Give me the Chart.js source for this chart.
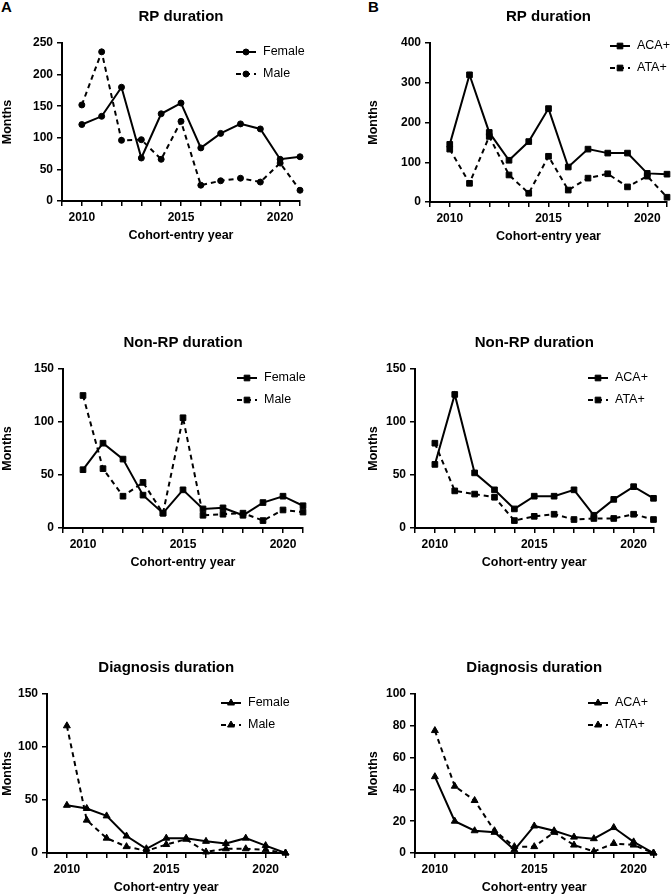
<!DOCTYPE html>
<html>
<head>
<meta charset="utf-8">
<script src="https://cdn.jsdelivr.net/npm/chart.js@4.4.0/dist/chart.umd.min.js"></script>
<style>
  body { margin: 0; background: #fff; width: 672px; height: 896px; position: relative; overflow: hidden;
         font-family: "Liberation Sans", Arial, sans-serif; }
  canvas { position: absolute; }
  .tag { position: absolute; font-weight: bold; font-size: 15px; line-height: 1; color: #000; }
</style>
</head>
<body>
<div class="tag" style="left:1px;top:-1px">A</div>
<div class="tag" style="left:368px;top:-1px">B</div>
<canvas id="a1"></canvas>
<canvas id="b1"></canvas>
<canvas id="a2"></canvas>
<canvas id="b2"></canvas>
<canvas id="a3"></canvas>
<canvas id="b3"></canvas>
<script>
// cohort-entry years
const years = [2010, 2011, 2012, 2013, 2014, 2015, 2016, 2017, 2018, 2019, 2020, 2021];

// RP duration (months)
const rpFemale = [121, 134, 180, 68, 138, 155, 84, 107, 122, 114, 66, 70];
const rpMale   = [152, 236, 96, 97, 66, 126, 25, 32, 36, 30, 60, 17];
const rpAca    = [145, 320, 175, 105, 152, 235, 88, 133, 123, 123, 72, 70];
const rpAta    = [133, 47, 165, 68, 22, 115, 30, 60, 71, 38, 65, 12];

// Non-RP duration (months)
const nonRpFemale = [55, 80, 65, 31, 14, 36, 18, 19, 12, 24, 30, 21];
const nonRpMale   = [125, 56, 30, 43, 14, 104, 12, 13, 14, 7, 17, 15];
const nonRpAca    = [60, 126, 52, 36, 18, 30, 30, 36, 12, 27, 39, 28];
const nonRpAta    = [80, 35, 32, 29, 7, 11, 13, 8, 9, 9, 13, 8];

// Diagnosis duration (months)
const dxFemale = [45, 42, 35, 16, 4, 14, 14, 11, 9, 14, 7, 0];
const dxMale   = [120, 31, 14, 6, 2, 8, 13, 1, 4, 4, 3, 0];
const dxAca    = [48, 20, 14, 13, 2, 17, 14, 10, 9, 16, 7, 0];
const dxAta    = [77, 42, 33, 14, 4, 4, 13, 5, 1, 6, 5, 0];

const sexLabels = ['Female', 'Male'];
const abLabels = ['ACA+', 'ATA+'];

Chart.defaults.font.family = '"Liberation Sans", Arial, sans-serif';
Chart.defaults.color = '#000';

// legend: short line sample with the marker in the middle, text to the right
const lineLegend = {
  id: 'lineLegend',
  afterDraw(chart, args, opts) {
    const ctx = chart.ctx;
    ctx.save();
    chart.data.datasets.forEach(function(ds, i) {
      const y = opts.y + i * 22;
      ctx.strokeStyle = '#000';
      ctx.lineWidth = 2;
      ctx.setLineDash(ds.borderDash || []);
      ctx.beginPath();
      ctx.moveTo(opts.x, y);
      ctx.lineTo(opts.x + 20, y);
      ctx.stroke();
      ctx.setLineDash([]);
      ctx.fillStyle = '#000';
      ctx.lineWidth = 1;
      Chart.helpers.drawPoint(ctx, { pointStyle: ds.pointStyle, radius: ds.pointRadius, borderWidth: 1, rotation: 0 }, opts.x + 10, y);
      ctx.font = '12.5px "Liberation Sans", Arial, sans-serif';
      ctx.textBaseline = 'middle';
      ctx.textAlign = 'left';
      ctx.fillText(ds.label, opts.x + 27, y);
    });
    ctx.restore();
  }
};

function series(label, values, dashed, style, radius) {
  return {
    label: label,
    data: years.map(function(yr, i) { return { x: yr, y: values[i] }; }),
    borderColor: '#000',
    backgroundColor: '#000',
    borderWidth: 2,
    borderDash: dashed ? [5, 4] : [],
    pointStyle: style,
    pointRadius: radius,
    pointBackgroundColor: '#000',
    pointBorderColor: '#000',
    pointBorderWidth: 1,
    tension: 0,
    clip: false
  };
}

// p: page layout of one panel (chart area l/r/t/b, title centre y, left edge, right edge, legend pos)
function panel(id, title, labels, a, b, style, radius, yMax, yStep, p) {
  const cx = p.x0, cy = p.titleY - 17;
  const w = p.x1 - cx, h = p.b + 42 - cy;
  const el = document.getElementById(id);
  el.width = w; el.height = h;
  el.style.left = cx + 'px'; el.style.top = cy + 'px';

  new Chart(el, {
    type: 'line',
    data: { datasets: [series(labels[0], a, false, style, radius), series(labels[1], b, true, style, radius)] },
    options: {
      responsive: false,
      animation: false,
      layout: { padding: { left: 0, top: 0, bottom: 0, right: p.x1 - p.r } },
      plugins: {
        legend: { display: false },
        tooltip: { enabled: false },
        title: {
          display: true, text: title, color: '#000', fullSize: false,
          font: { size: 15, weight: 'bold' },
          padding: { top: 8, bottom: p.t - cy - 26 }
        },
        lineLegend: { x: p.lx - cx, y: p.ly - cy }
      },
      scales: {
        x: {
          type: 'linear', min: 2009, max: 2021,
          ticks: {
            stepSize: 1, autoSkip: false, maxRotation: 0, padding: 4,
            color: '#000', font: { size: 12, weight: 'bold' },
            callback: function(v) { return v % 5 === 0 ? String(v) : ''; }
          },
          grid: { drawOnChartArea: false, tickLength: 5, color: '#000', lineWidth: 1.5 },
          border: { color: '#000', width: 2 },
          title: { display: true, text: 'Cohort-entry year', color: '#000', padding: 0, font: { size: 12.5, weight: 'bold' } },
          afterFit: function(s) { s.height = 42; }
        },
        y: {
          min: 0, max: yMax,
          ticks: { stepSize: yStep, padding: 4, color: '#000', font: { size: 12, weight: 'bold' } },
          grid: { drawOnChartArea: false, tickLength: 5, color: '#000', lineWidth: 1.5 },
          border: { color: '#000', width: 2 },
          title: { display: true, text: 'Months', color: '#000', padding: 0, font: { size: 12.5, weight: 'bold' } },
          afterFit: function(s) { s.width = p.l - cx; }
        }
      }
    },
    plugins: [lineLegend]
  });
}

panel('a1', 'RP duration', sexLabels, rpFemale, rpMale, 'circle', 3, 250, 50,
  { x0: 0, x1: 336, l: 62, r: 300, t: 43, b: 201, titleY: 17, lx: 236, ly: 52 });
panel('b1', 'RP duration', abLabels, rpAca, rpAta, 'rect', 4, 400, 100,
  { x0: 366, x1: 672, l: 430, r: 668, t: 43, b: 202, titleY: 17, lx: 610, ly: 46 });
panel('a2', 'Non-RP duration', sexLabels, nonRpFemale, nonRpMale, 'rect', 4, 150, 50,
  { x0: 0, x1: 336, l: 63, r: 303, t: 369, b: 528, titleY: 343, lx: 237, ly: 378 });
panel('b2', 'Non-RP duration', abLabels, nonRpAca, nonRpAta, 'rect', 4, 150, 50,
  { x0: 366, x1: 672, l: 415, r: 653.5, t: 369, b: 528, titleY: 343, lx: 588, ly: 378 });
panel('a3', 'Diagnosis duration', sexLabels, dxFemale, dxMale, 'triangle', 4, 150, 50,
  { x0: 0, x1: 336, l: 47, r: 285.5, t: 694, b: 853, titleY: 668, lx: 221, ly: 703 });
panel('b3', 'Diagnosis duration', abLabels, dxAca, dxAta, 'triangle', 4, 100, 20,
  { x0: 366, x1: 672, l: 415, r: 653.5, t: 694, b: 853, titleY: 668, lx: 588, ly: 703 });
</script>
</body>
</html>
